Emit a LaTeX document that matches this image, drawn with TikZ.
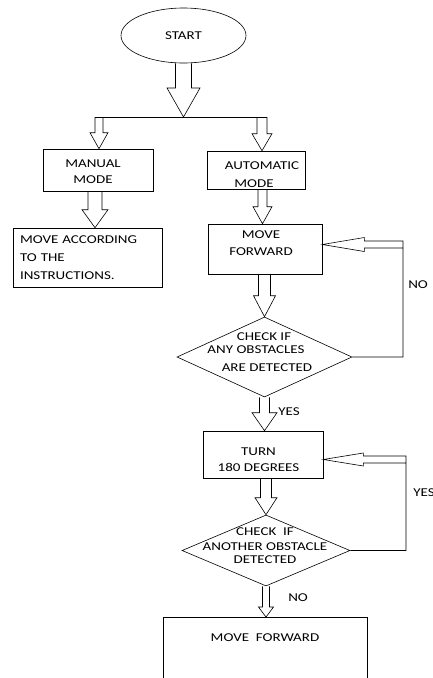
\documentclass[tikz,border=0pt]{standalone}
\usepackage{fontspec}
\setmainfont{Carlito}[FakeStretch=1.25]
\usetikzlibrary{shapes.geometric, calc}

\tikzset{
    box/.style={draw, rectangle, align=center, inner sep=0pt},
    decision/.style={draw, diamond, inner sep=0pt},
    tag/.style={anchor=west, inner sep=0pt},
}

\begin{document}
\begin{tikzpicture}
    [x=1pt, y=-1pt, font=\fontsize{12}{16}\selectfont,
     line width=.6pt,
    ]
    \useasboundingbox (0,0) rectangle (432,678);

    % Start and the two modes
    \node[draw, ellipse, minimum width=125pt, minimum height=55pt, inner sep=0pt]
        (start) at (183.5,35.5) {START};
    \node[box, minimum width=110pt, minimum height=42pt,
          label={[align=center, xshift=-5pt, yshift=-1.5pt]center:MANUAL\\MODE}]
        (manual) at (98,170) {};
    \node[box, minimum width=98pt, minimum height=38pt,
          label={[align=center, xshift=6pt, yshift=-5pt]center:AUTOMATIC\\[2pt]\makebox[0pt]{MODE\hspace{16pt}}}]
        (auto) at (256,170) {};
    \node[box, minimum width=149pt, minimum height=59pt, text width=135pt, align=left,
          inner xsep=7pt, font=\fontsize{12}{18}\selectfont]
        (instr) at (87.5,257.5) {MOVE ACCORDING\\TO THE\\INSTRUCTIONS.};

    % Automatic branch
    \node[box, minimum width=114pt, minimum height=50pt,
          label={[align=center, xshift=-4pt, yshift=5.5pt]center:MOVE\\[1pt]FORWARD}]
        (move) at (265,249) {};
    \node[decision, minimum width=175pt, minimum height=80pt,
          label={[xshift=-8.5pt, yshift=4.5pt, align=center]center:{\makebox[0pt]{\hspace{16pt}CHECK IF}\\[-3pt]ANY OBSTACLES\\[2pt]\makebox[0pt]{\hspace{22pt}ARE DETECTED}}}]
        (check1) at (264.5,357) {};
    \node[box, minimum width=120pt, minimum height=47pt,
          label={[align=center, xshift=-4.5pt, yshift=-5.5pt]center:TURN\\180 DEGREES}]
        (turn) at (263,454.5) {};
    \node[decision, minimum width=168pt, minimum height=71pt,
          label={[xshift=-1pt, yshift=4.5pt, align=center]center:{CHECK\ \ IF\\[-1pt]ANOTHER OBSTACLE\\[-3pt]DETECTED}}]
        (check2) at (266,550.5) {};
    \node[box, minimum width=204pt, anchor=north, inner ysep=16pt, text depth=45pt]
        (final) at (265,617) {MOVE\ \ FORWARD};

    % Split below start
    \coordinate (split) at (183.5,117);
    \coordinate (splitL) at (95,117);
    \coordinate (splitR) at (267,117);
    \coordinate (manualIn) at (99,117);
    \coordinate (autoIn) at (262,117);
    \draw (splitL) -- (splitR);

    % Arrow ends
    \coordinate (manualTip) at (manualIn |- manual.north);
    \coordinate (autoTip) at (autoIn |- auto.north);
    \coordinate (manualOut) at ($(manual.south)+(-3,0)$);
    \coordinate (instrTip) at (manualOut |- instr.north);
    \coordinate (autoOut) at ($(auto.south)+(6.5,0)$);
    \coordinate (moveTip) at (autoOut |- move.north);
    \coordinate (moveOut) at (check1.north |- move.south);
    \coordinate (turnTip) at (check1.south |- turn.north);
    \coordinate (turnOut) at (check2.north |- turn.south);
    \coordinate (finalTip) at (check2.south |- final.north);

    % Block arrows, downwards
    \foreach \a / \b / \sw / \hw / \hl in
             {start.south/split/8/16.5/29, manualIn/manualTip/4/9/16,
              autoIn/autoTip/5/10/17, manualOut/instrTip/7/13/18,
              autoOut/moveTip/4.5/9.5/17, moveOut/check1.north/6/11/21,
              check1.south/turnTip/5/12.5/18, turnOut/check2.north/5.5/11/17,
              check2.south/finalTip/3.5/7.5/10} {
        \draw ($(\a)+(-\sw,0)$) -- ($(\b)+(-\sw,-\hl)$) -- ($(\b)+(-\hw,-\hl)$)
            -- (\b) -- ($(\b)+(\hw,-\hl)$) -- ($(\b)+(\sw,-\hl)$) -- ($(\a)+(\sw,0)$);
    }

    % Feedback loops
    \coordinate (fb1) at (403,244.5);
    \coordinate (fbTip1) at (move.east |- fb1);
    \draw (check1.east) -| ($(fb1)+(0,-3.5)$) -- ($(fbTip1)+(42,-3.5)$)
        -- ($(fbTip1)+(42,-7)$) -- (fbTip1) -- ($(fbTip1)+(42,7)$)
        -- ($(fbTip1)+(42,3.5)$) -- ($(fb1)+(0,3.5)$);

    \coordinate (fb2) at (406,459.5);
    \coordinate (fbTip2) at (turn.east |- fb2);
    \draw (check2.east) -| ($(fb2)+(0,-3.5)$) -- ($(fbTip2)+(40,-3.5)$)
        -- ($(fbTip2)+(40,-6.5)$) -- (fbTip2) -- ($(fbTip2)+(40,6.5)$)
        -- ($(fbTip2)+(40,3.5)$) -- ($(fb2)+(0,3.5)$);

    % Labels
    \node[tag] (no1) at (408,285) {NO};
    \node[tag] (yes1) at (278,412) {YES};
    \node[tag] (yes2) at (413,493) {YES};
    \node[tag] (no2) at (288,598) {NO};
\end{tikzpicture}
\end{document}
